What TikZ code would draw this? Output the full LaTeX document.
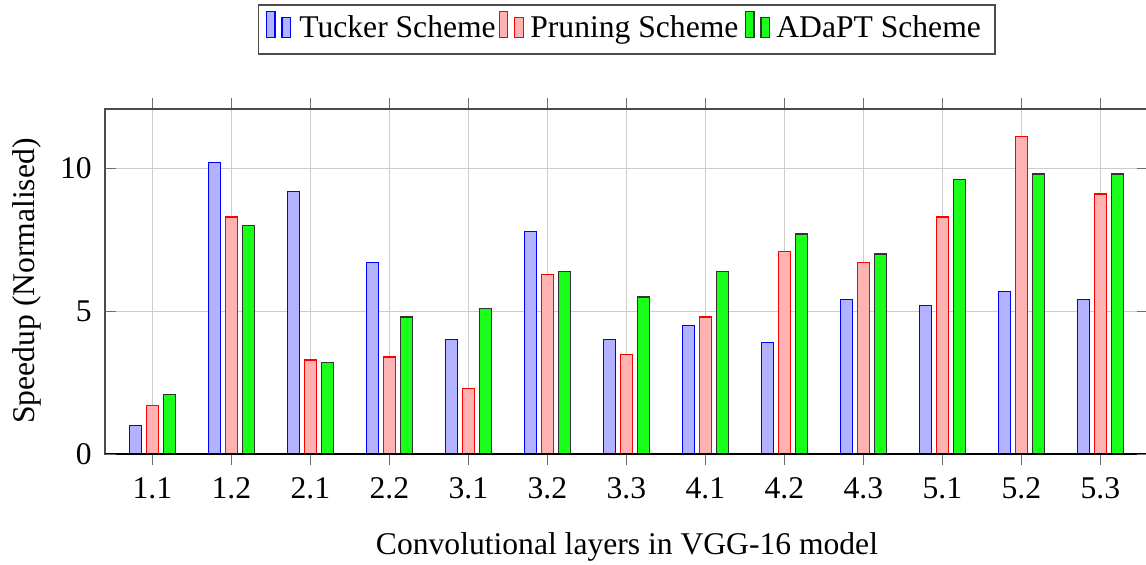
\documentclass[tikz,border=0pt]{standalone}
\usepackage{fontspec}
\setmainfont{Liberation Serif}
\begin{document}
\begin{tikzpicture}[x=0.5pt,y=-0.5pt,
  gridline/.style={gray!40, line width=0.6pt},
  tickmark/.style={gray!85!black, line width=0.6pt},
  frame/.style={black!70, line width=0.8pt},
  tucker/.style={draw=blue, fill=blue!30, line width=0.6pt},
  pruning/.style={draw=red, fill=red!30, line width=0.6pt},
  adapt/.style={draw=black!80, fill=green!90!white, line width=0.6pt},
  lbl/.style={font=\fontsize{15.8}{19}\selectfont, inner sep=0pt}]
\useasboundingbox (0,0) rectangle (1146,565);
\def\ybase{454.3}
\def\yunit{28.6}
\def\xleft{105}
\def\xright{1148}
\def\ytop{109}

% grid
\foreach \i in {0,...,12}
  \draw[gridline] ({152.3+79*\i},\ytop) -- ({152.3+79*\i},\ybase);
\foreach \v in {5,10}
  \draw[gridline] (\xleft,{\ybase-\yunit*\v}) -- (\xright,{\ybase-\yunit*\v});

% bars: Tucker / Pruning / ADaPT for each layer
\foreach \t/\p/\a/\lab [count=\i from 0] in
  {1.0/1.7/2.1/1.1, 10.2/8.3/8.0/1.2, 9.2/3.3/3.2/2.1, 6.7/3.4/4.8/2.2,
   4.0/2.3/5.1/3.1, 7.8/6.3/6.4/3.2, 4.0/3.5/5.5/3.3, 4.5/4.8/6.4/4.1,
   3.9/7.1/7.7/4.2, 5.4/6.7/7.0/4.3, 5.2/8.3/9.6/5.1, 5.7/11.1/9.8/5.2,
   5.4/9.1/9.8/5.3}{
  \pgfmathsetmacro\cx{152.3+79*\i}
  \draw[tucker] ({\cx-17.2-6},\ybase) rectangle ({\cx-17.2+6},{\ybase-\yunit*\t});
  \draw[pruning] ({\cx-6},\ybase) rectangle ({\cx+6},{\ybase-\yunit*\p});
  \draw[adapt] ({\cx+17.2-6},\ybase) rectangle ({\cx+17.2+6},{\ybase-\yunit*\a});
  \node[lbl, anchor=base] (xt\i) at (\cx,499) {\lab};
  % x ticks, outside the frame
  \draw[tickmark] (\cx,\ybase) -- (\cx,{\ybase+11});
  \draw[tickmark] (\cx,\ytop) -- (\cx,{\ytop-11});
}

% frame
\draw[frame] (\xleft,\ytop) rectangle (\xright,\ybase);
\draw[black, line width=0.8pt] (\xleft,\ybase) -- (\xright,\ybase);

% y ticks, inside the frame, and their labels
\foreach \v in {0,5,10}{
  \draw[tickmark] (\xleft,{\ybase-\yunit*\v}) -- ({\xleft+11},{\ybase-\yunit*\v});
  \draw[tickmark] (\xright,{\ybase-\yunit*\v}) -- ({\xright-11},{\ybase-\yunit*\v});
  \node[lbl, anchor=east] (yt\v) at (92,{\ybase-\yunit*\v}) {\v};
}

% axis titles
\node[lbl, rotate=90] (ylabel) at (27,281) {Speedup (Normalised)};
\node[lbl] (xlabel) at (627,547) {Convolutional layers in VGG-16 model};

% legend
\draw[frame] (258.3,5.3) rectangle (995,54);
\draw[tucker] (266.7,11.7) rectangle (275,37.3);
\draw[tucker] (282,17.7) rectangle (290.7,37.3);
\node[lbl, anchor=base west] (legT) at (299,37.3) {Tucker Scheme};
\draw[pruning] (499.3,11.7) rectangle (507.6,37.3);
\draw[pruning] (514.6,17.7) rectangle (523.3,37.3);
\node[lbl, anchor=base west] (legP) at (530,37.3) {Pruning Scheme};
\draw[adapt] (745.7,11.7) rectangle (754,37.3);
\draw[adapt] (761,17.7) rectangle (769.7,37.3);
\node[lbl, anchor=base west] (legA) at (776,37.3) {ADaPT Scheme};
\end{tikzpicture}
\end{document}
